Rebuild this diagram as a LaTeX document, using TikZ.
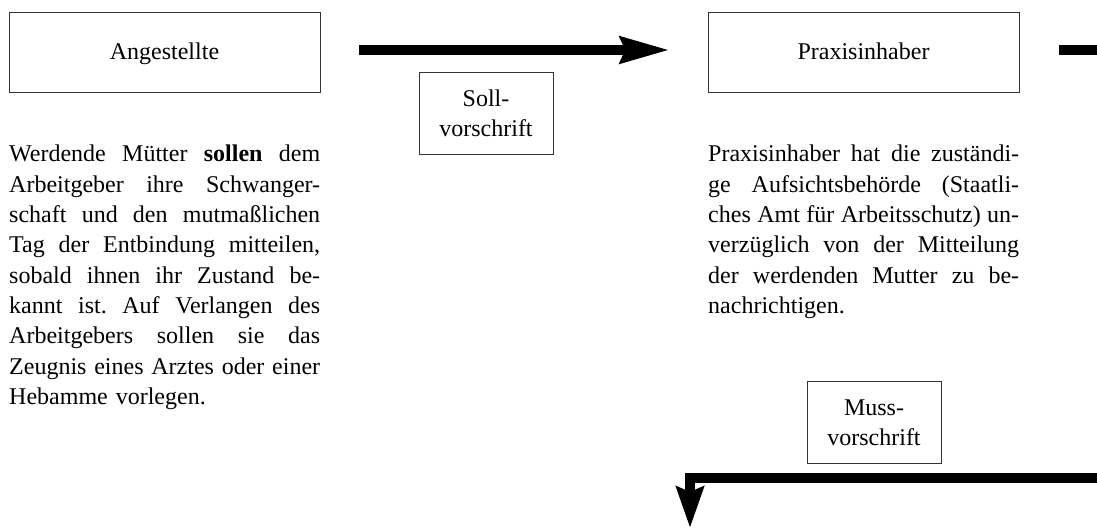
\documentclass[tikz,border=0pt]{standalone}
\usepackage{fontspec}
\setmainfont{Liberation Serif}
\usetikzlibrary{arrows.meta}
\tikzset{
  labelbox/.style={draw=black!80, line width=1pt, rectangle, inner sep=0pt, align=center,
    font=\fontsize{24}{30.3}\selectfont},
  rolebox/.style={labelbox, minimum width=311pt, minimum height=80pt,
    text height=14pt, text depth=0pt},
  kindbox/.style={labelbox, minimum width=134pt, minimum height=82pt},
  para/.style={inner sep=0pt, anchor=north west, text width=311pt,
    font=\fontsize{24}{30.3}\selectfont\frenchspacing},
  flow/.style={line width=10pt, line join=miter,
    -{Stealth[length=49pt, width=26pt, inset=5pt]}},
  flowdown/.style={line width=10pt, line join=miter,
    -{Stealth[length=41pt, width=27pt, inset=5pt]}},
}
\newcommand{\jl}[1]{\hbox to 311pt{\spaceskip=6pt plus 20pt\relax #1}\par}
\begin{document}
\begin{tikzpicture}[x=1pt,y=-1pt]
\useasboundingbox (0,0) rectangle (1097,528);
\node[rolebox] (ang) at (164.5,52) {Angestellte};
\node[rolebox] (praxis) at (863.5,52) {Praxisinhaber};
\node[kindbox] (soll) at (486,113) {Soll-\\vorschrift};
\node[kindbox] (muss) at (874,422.5) {Muss-\\vorschrift};
\node[para] (lefttext) at (9,140.5) {\parindent=0pt\strut
\jl{Werdende Mütter \textbf{sollen} dem}
\jl{Arbeitgeber ihre Schwanger-}
\jl{schaft und den mutmaßlichen}
\jl{Tag der Entbindung mitteilen,}
\jl{sobald ihnen ihr Zustand be-}
\jl{kannt ist. Auf Verlangen des}
\jl{Arbeitgebers sollen sie das}
\jl{Zeugnis eines Arztes oder einer}
Hebamme vorlegen.};
\node[para] (righttext) at (708,140.5) {\parindent=0pt\strut
\jl{Praxisinhaber hat die zuständi-}
\jl{ge Aufsichtsbehörde (Staatli-}
\jl{ches Amt für Arbeitsschutz) un-}
\jl{verzüglich von der Mitteilung}
\jl{der werdenden Mutter zu be-}
nachrichtigen.};
\coordinate (offright) at (1110,50);
\coordinate (inright) at (1110,478);
\coordinate (corner) at (690,478);
\coordinate (downend) at (690,528);
\draw[flow] ([shift={(38,-2)}]ang.east) -- ([shift={(-38,-2)}]praxis.west);
\draw[line width=10pt] ([shift={(39,-2)}]praxis.east) -- (offright);
\draw[flowdown] (inright) -- (corner) -- (downend);
\end{tikzpicture}
\end{document}
